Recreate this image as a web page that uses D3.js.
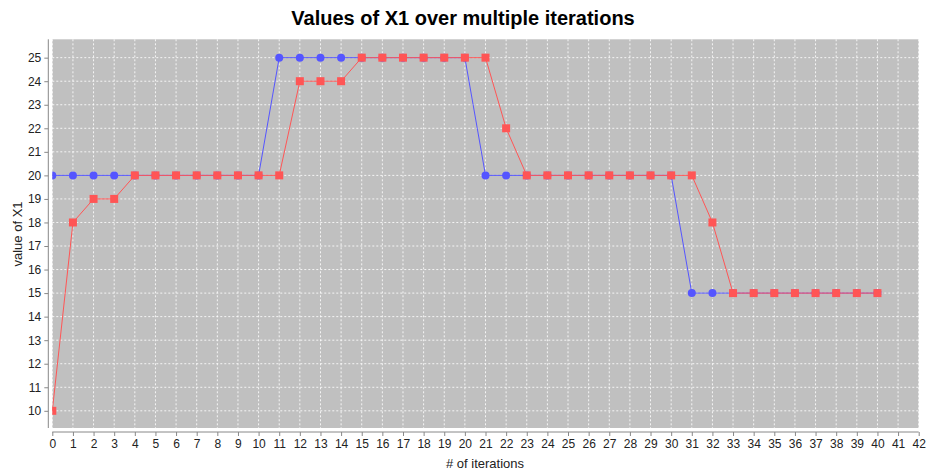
<!DOCTYPE html>
<html><head><meta charset="utf-8">
<script src="https://cdn.jsdelivr.net/npm/d3@7"></script>
<style>body{margin:0;background:#fff}svg{display:block;font-family:"Liberation Sans",Arial,sans-serif}</style>
</head><body><svg id="c" width="926" height="474"></svg>
<script>
const iterations = d3.range(0, 41);
const seriesBlue = [20,20,20,20,20,20,20,20,20,20,20,25,25,25,25,25,25,25,25,25,25,20,20,20,20,20,20,20,20,20,20,15,15,15,15,15,15,15,15,15,15];
const seriesRed  = [10,18,19,19,20,20,20,20,20,20,20,20,24,24,24,25,25,25,25,25,25,25,22,20,20,20,20,20,20,20,20,20,18,15,15,15,15,15,15,15,15];
const xTicks = d3.range(0, 43);
const yTicks = d3.range(10, 26);
const titleText = "Values of X1 over multiple iterations";
const xLabel = "# of iterations";
const yLabel = "value of X1";

const svg = d3.select("#c");
const L = 52.3, R = 918.7, T = 39.3, B = 428;
const x = d3.scaleLinear().domain([0, 42]).range([52.3, 918.7]);
const y = d3.scaleLinear().domain([9.27, 25.78]).range([B, T]);

svg.append("defs").append("clipPath").attr("id", "pc").append("rect")
  .attr("x", L).attr("y", T).attr("width", R - L).attr("height", B - T);

svg.append("rect").attr("x", L).attr("y", T).attr("width", R - L).attr("height", B - T).attr("fill", "#c0c0c0");

const g = svg.append("g");
g.selectAll(".vg").data(xTicks).join("line")
  .attr("x1", d => x(d)).attr("x2", d => x(d)).attr("y1", T).attr("y2", B)
  .attr("stroke", "#fff").attr("stroke-width", 1).attr("stroke-dasharray", "2,2").attr("opacity", 0.85);
g.selectAll(".hg").data(yTicks).join("line")
  .attr("x1", L).attr("x2", R).attr("y1", d => y(d)).attr("y2", d => y(d))
  .attr("stroke", "#fff").attr("stroke-width", 1).attr("stroke-dasharray", "2,2").attr("opacity", 0.85);

// axes
const xAxis = d3.axisBottom(x).tickValues(xTicks).tickSize(4).tickPadding(3).tickFormat(d3.format("d"));
const yAxis = d3.axisLeft(y).tickValues(yTicks).tickSize(4).tickPadding(3).tickFormat(d3.format("d"));
const gx = svg.append("g").attr("transform", `translate(0,${B + 4})`).call(xAxis);
const gy = svg.append("g").attr("transform", `translate(${L - 4},0)`).call(yAxis);
[gx, gy].forEach(a => {
  a.select(".domain").remove();
  a.selectAll(".tick line").attr("stroke", "#888");
  a.selectAll(".tick text").attr("fill", "#222").attr("font-size", 12).attr("font-family", '"Liberation Sans",Arial,sans-serif');
});
gx.append("line").attr("x1", L).attr("x2", R).attr("y1", 0).attr("y2", 0).attr("stroke", "#888");
gy.append("line").attr("x1", 0).attr("x2", 0).attr("y1", T).attr("y2", B).attr("stroke", "#888");

const marks = svg.append("g").attr("clip-path", "url(#pc)");
const line = d3.line().x((d, i) => x(i)).y(d => y(d));
const blueC = "#5555ff", redC = "#ff5555";
marks.append("path").datum(seriesBlue).attr("d", line).attr("fill", "none").attr("stroke", blueC).attr("stroke-width", 1);
marks.selectAll(".bp").data(seriesBlue).join("circle")
  .attr("cx", (d, i) => x(i)).attr("cy", d => y(d)).attr("r", 4).attr("fill", blueC);
marks.append("path").datum(seriesRed).attr("d", line).attr("fill", "none").attr("stroke", redC).attr("stroke-width", 1);
marks.selectAll(".rp").data(seriesRed).join("rect")
  .attr("x", (d, i) => x(i) - 4).attr("y", d => y(d) - 4).attr("width", 8).attr("height", 8).attr("fill", redC);

svg.append("text").attr("x", 463).attr("y", 25).attr("text-anchor", "middle")
  .attr("font-size", 20).attr("font-weight", "bold").attr("fill", "#000").text(titleText);
svg.append("text").attr("x", 485).attr("y", 468).attr("text-anchor", "middle")
  .attr("font-size", 13).attr("fill", "#222").text(xLabel);
svg.append("text").attr("transform", "translate(22,234) rotate(-90)").attr("text-anchor", "middle")
  .attr("font-size", 13).attr("fill", "#222").text(yLabel);
</script></body></html>
